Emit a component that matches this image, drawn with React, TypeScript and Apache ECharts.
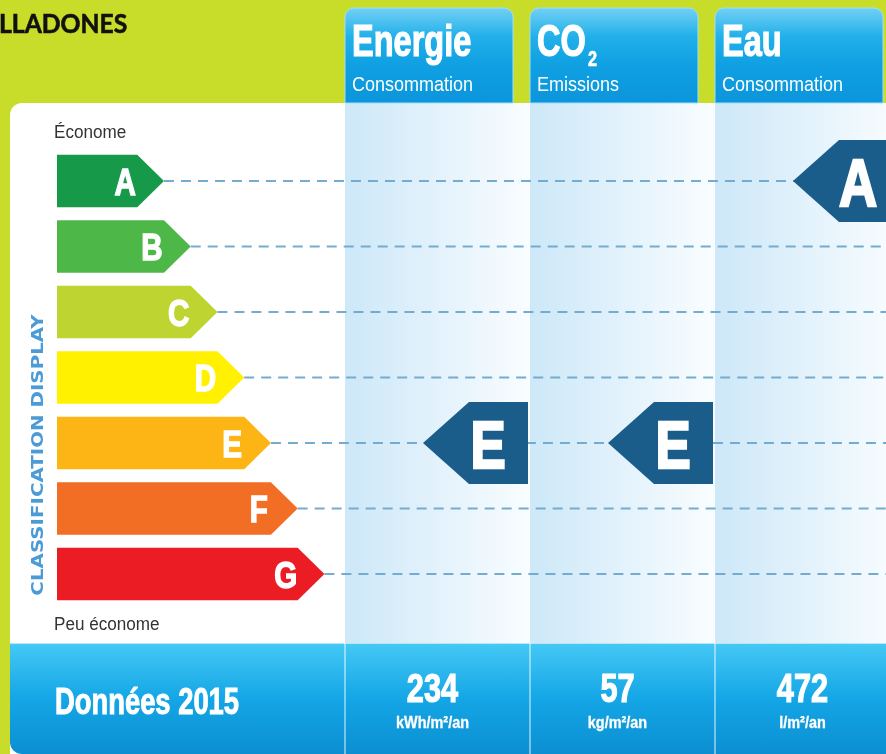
import React, { useEffect, useRef } from "react";
import * as echarts from "echarts";

// ---- data ----
const classes = ["A", "B", "C", "D", "E", "F", "G"];
const classTip = [4, 5, 6, 7, 8, 9, 10]; // arrow tip position (axis units)
const indicators = ["Energie", "CO", "Eau"];
const indicatorSubscript = ["", "2", ""];
const indicatorSubtitles = ["Consommation", "Emissions", "Consommation"];
const ratings = ["E", "E", "A"];
const values2015 = [234, 57, 472];
const units = ["kWh/m²/an", "kg/m²/an", "l/m²/an"];
const titleText = "LLADONES";
const bestLabel = "Économe";
const worstLabel = "Peu économe";
const sideLabel = "CLASSIFICATION DISPLAY";
const yearLabel = "Données 2015";

// ---- styles ----
const classColors = ["#17994a", "#4db748", "#bdd431", "#fff100", "#fdb515", "#f16e24", "#ec1c24"];
const SANS = "'Liberation Sans', Arimo, Arial, sans-serif";
const LIME = "#c8dc2a";
const MARKER = "#1a5d8b";

// text element helper (scaleX emulates a condensed face, stroke thickens it)
const T = (
  x: number,
  y: number,
  text: string,
  o: { size: number; bold?: boolean; fill?: string; align?: string; sx?: number; family?: string; rotation?: number; z?: number; thick?: number }
) => {
  const fill = o.fill ?? "#ffffff";
  return {
    type: "text",
    x,
    y,
    scaleX: o.sx ?? 1,
    rotation: o.rotation ?? 0,
    ...(o.z !== undefined ? { z: o.z } : {}),
    style: {
      text,
      fontFamily: o.family ?? SANS,
      fontWeight: o.bold ? "bold" : "normal",
      fontSize: o.size,
      fill,
      ...(o.thick ? { stroke: fill, lineWidth: o.thick } : {}),
      align: o.align ?? "left",
      verticalAlign: "middle",
      textAlign: o.align ?? "left",
      textVerticalAlign: "middle",
    },
  };
};

export default function App() {
  const ref = useRef<HTMLDivElement>(null);
  useEffect(() => {
    if (!ref.current) return;
    const chart = echarts.init(ref.current, undefined, { renderer: "svg" });
    const vGrad = (c: [number, string][]) =>
      new echarts.graphic.LinearGradient(0, 0, 0, 1, c.map(([offset, color]) => ({ offset, color })));
    const hGrad = (c: [number, string][]) =>
      new echarts.graphic.LinearGradient(0, 0, 1, 0, c.map(([offset, color]) => ({ offset, color })));

    const option: any = {
      animation: false,
      grid: [
        { left: 57, width: 829, top: 148.25, height: 458.5, outerBoundsMode: "none" },
        { left: 345, width: 555, top: 148.25, height: 458.5, outerBoundsMode: "none" },
      ],
      xAxis: [
        { gridIndex: 0, type: "value", min: 0, max: 31, show: false },
        { gridIndex: 1, type: "category", data: indicators, show: false },
      ],
      yAxis: [
        { gridIndex: 0, type: "category", data: classes, inverse: true, show: false },
        { gridIndex: 1, type: "category", data: classes, inverse: true, show: false },
      ],
      graphic: [
        { type: "rect", z: 0, shape: { x: 0, y: 0, width: 886, height: 754 }, style: { fill: LIME } },
        { type: "rect", z: 0, shape: { x: 10, y: 103, width: 900, height: 700, r: [12, 0, 0, 0] }, style: { fill: "#ffffff" } },
        {
          type: "rect", z: 0,
          shape: { x: 10, y: 643, width: 900, height: 111, r: [0, 0, 0, 12] },
          style: { fill: vGrad([[0, "#45c9f5"], [0.5, "#14a6e6"], [1, "#0b8fd2"]]) },
        },
        { type: "line", z: 0, shape: { x1: 10, y1: 643.5, x2: 886, y2: 643.5 }, style: { stroke: "rgba(255,255,255,0.6)", lineWidth: 1 } },
        T(-1, 23, titleText, { size: 26, bold: true, fill: "#111111", family: "Lato, 'Open Sans', sans-serif", sx: 0.95, z: 1, thick: 0.6 }),
        T(54, 132, bestLabel, { size: 19, fill: "#333333", sx: 0.9, z: 1 }),
        T(54, 624, worstLabel, { size: 19, fill: "#333333", sx: 0.9, z: 1 }),
        T(37, 455, sideLabel, { size: 15.5, bold: true, fill: "#4b9bd6", align: "center", family: "'DejaVu Sans', sans-serif", sx: 1.28, rotation: Math.PI / 2, z: 1 }),
        T(55, 701, yearLabel, { size: 37, bold: true, sx: 0.74, z: 1, thick: 1 }),
      ],
      series: [
        {
          type: "custom", name: "columns", xAxisIndex: 1, yAxisIndex: 1, z: 10, silent: true, clip: false,
          data: indicators.map((_, i) => [i, 0]),
          renderItem: (params: any, api: any) => {
            const i = api.value(0);
            const c = api.coord([i, 0])[0];
            const bw = api.size([1, 0])[0];
            const left = c - bw / 2;
            return {
              type: "group",
              children: [
                { type: "rect", shape: { x: left, y: 103, width: bw, height: 540 }, style: { fill: hGrad([[0, "#cde8f8"], [0.55, "#e5f3fc"], [1, "#f9fdff"]]) } },
                {
                  type: "rect", shape: { x: left, y: 8, width: bw - 17, height: 95, r: [9, 9, 0, 0] },
                  style: { fill: vGrad([[0, "#72d0f4"], [0.3, "#22b0ea"], [0.6, "#0fa0e2"], [1, "#0c95dc"]]), stroke: "#9fe0f8", lineWidth: 1 },
                },
                T(left + 7, 41, indicators[i], { size: 44, bold: true, sx: 0.74, thick: 1.2 }),
                T(left + 58, 58, indicatorSubscript[i], { size: 22, bold: true, sx: 0.74, thick: 0.6 }),
                T(left + 7, 84, indicatorSubtitles[i], { size: 20, sx: 0.9 }),
                { type: "line", shape: { x1: left, y1: 643, x2: left, y2: 754 }, style: { stroke: "rgba(255,255,255,0.6)", lineWidth: 1.5 } },
                T(c - 5, 688, String(values2015[i]), { size: 41, bold: true, align: "center", sx: 0.75, thick: 1.2 }),
                T(c - 5, 722, units[i], { size: 17, bold: true, align: "center", sx: 0.85, thick: 0.3 }),
              ],
            };
          },
        },
        {
          type: "custom", name: "classes", xAxisIndex: 0, yAxisIndex: 0, z: 11, silent: true, clip: false,
          data: classes.map((_, i) => [classTip[i], i]),
          renderItem: (params: any, api: any) => {
            const idx = api.value(1);
            const tip = api.coord([api.value(0), idx]);
            const base = api.coord([0, idx]);
            const band = api.size([0, 1])[1];
            const unit = api.size([1, 0])[0];
            const h = band * 0.8;
            const cy = tip[1];
            const cs = params.coordSys;
            return {
              type: "group",
              children: [
                { type: "line", shape: { x1: tip[0], y1: cy, x2: cs.x + cs.width, y2: cy }, style: { stroke: "#76abd0", lineWidth: 2.2, lineDash: [10, 7] } },
                {
                  type: "polygon",
                  shape: { points: [[base[0], cy - h / 2], [tip[0] - unit, cy - h / 2], [tip[0], cy], [tip[0] - unit, cy + h / 2], [base[0], cy + h / 2]] },
                  style: { fill: classColors[idx] },
                },
                T(tip[0] - unit * 1.45, cy + 1, classes[idx], { size: 37, bold: true, align: "center", sx: 0.8, thick: 1.4 }),
              ],
            };
          },
        },
        {
          type: "custom", name: "ratings", xAxisIndex: 1, yAxisIndex: 1, z: 12, silent: true, clip: false,
          data: ratings.map((r, i) => [i, classes.indexOf(r)]),
          renderItem: (params: any, api: any) => {
            const i = api.value(0);
            const r = api.value(1);
            const p = api.coord([i, r]);
            const bw = api.size([1, 0])[0];
            const right = p[0] + bw / 2 - 2;
            const cy = p[1];
            const h = 82, w = 105, tipLen = 46;
            return {
              type: "group",
              children: [
                {
                  type: "polygon",
                  shape: { points: [[right, cy - h / 2], [right - w + tipLen, cy - h / 2], [right - w, cy], [right - w + tipLen, cy + h / 2], [right, cy + h / 2]] },
                  style: { fill: MARKER },
                },
                T(right - 40, cy + 2, classes[r], { size: 66, bold: true, align: "center", sx: 0.8, thick: 2.5 }),
              ],
            };
          },
        },
      ],
    };
    chart.setOption(option);
    return () => chart.dispose();
  }, []);
  return <div ref={ref} style={{ position: "fixed", left: 0, top: 0, width: 886, height: 754 }} />;
}
